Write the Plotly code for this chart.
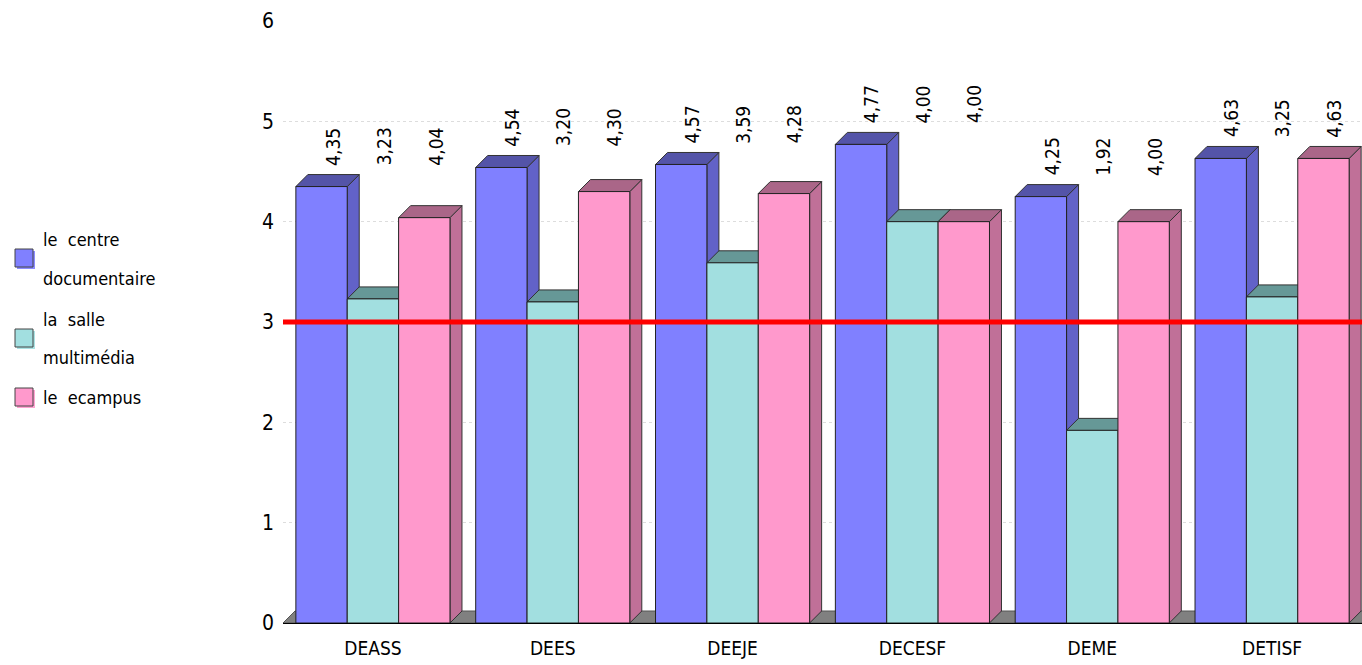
import plotly.graph_objects as go

# Survey averages per department
categories = ["DEASS", "DEES", "DEEJE", "DECESF", "DEME", "DETISF"]
series_names = ["le centre documentaire", "la salle multimédia", "le ecampus"]
centre_doc = [4.35, 4.54, 4.57, 4.77, 4.25, 4.63]
salle_multi = [3.23, 3.20, 3.59, 4.00, 1.92, 3.25]
ecampus = [4.04, 4.30, 4.28, 4.00, 4.00, 4.63]
y_ticks = [0, 1, 2, 3, 4, 5, 6]
threshold = 3

FONT = "Liberation Sans Narrow, DejaVu Sans Condensed, Arial Narrow, sans-serif"

# front, top, side colours per series
palette = [
    ("#8080FF", "#5454A8", "#6262C8"),
    ("#A2DFE0", "#669897", "#7FB5B5"),
    ("#FF99CC", "#AA6688", "#C07098"),
]
series = [centre_doc, salle_multi, ecampus]

# geometry of the plot area in pixels (used to derive the 3D depth offset)
W, H = 1362, 665
L, R, T, B = 283, 0, 21, 42
plot_w = W - L - R
plot_h = H - T - B
x_min, x_max = -0.5, len(categories) - 0.5
y_min, y_max = 0, 6
depth_px = 12
dx = depth_px * (x_max - x_min) / plot_w
dy = depth_px * (y_max - y_min) / plot_h

bargap = 0.143
bar_w = (1 - bargap) / 3
xs = list(range(len(categories)))

fig = go.Figure()
for k, (name, vals) in enumerate(zip(series_names, series)):
    fig.add_trace(go.Bar(
        x=xs, y=vals, name=name,
        marker=dict(color=palette[k][0], line=dict(color="#222222", width=1)),
        showlegend=False, hoverinfo="y",
    ))

shapes = []
# floor slab
shapes.append(dict(
    type="path", xref="x", yref="y", layer="between",
    path=f"M {x_min},0 L {x_min+dx},{dy} L {x_max+dx},{dy} L {x_max},0 Z",
    fillcolor="#808080", line=dict(color="#555555", width=1),
))

sides, tops = [], []
for k, vals in enumerate(series):
    off = (k - 1) * bar_w
    for i, v in enumerate(vals):
        x0 = i + off - bar_w / 2
        x1 = x0 + bar_w
        sides.append(dict(
            type="path", xref="x", yref="y", layer="between",
            path=f"M {x1},0 L {x1+dx},{dy} L {x1+dx},{v+dy} L {x1},{v} Z",
            fillcolor=palette[k][2], line=dict(color="#333333", width=1),
        ))
        tops.append(dict(
            type="path", xref="x", yref="y", layer="between",
            path=f"M {x0},{v} L {x0+dx},{v+dy} L {x1+dx},{v+dy} L {x1},{v} Z",
            fillcolor=palette[k][1], line=dict(color="#333333", width=1),
        ))
shapes += sides + tops

# reference line at the scale midpoint
shapes.append(dict(
    type="line", xref="paper", yref="y", x0=0, x1=1, y0=threshold, y1=threshold,
    line=dict(color="#FF0000", width=5), layer="above",
))

annotations = []
# vertical value labels, aligned per department above its tallest bar
for i in range(len(categories)):
    group_top = max(s[i] for s in series)
    for k, vals in enumerate(series):
        off = (k - 1) * bar_w
        annotations.append(dict(
            x=i + off + 0.06, y=group_top + dy, xref="x", yref="y",
            text=f"{vals[i]:.2f}".replace(".", ","), showarrow=False,
            textangle=-90, xanchor="center", yanchor="bottom", yshift=7,
            font=dict(family=FONT, size=19, color="#000000"),
        ))


def px_x(p):
    return (p - L) / plot_w


def px_y(p):
    return (H - B - p) / plot_h


# legend drawn beside the plot
legend_rows = [
    (249, ["le  centre", "documentaire"], [239, 278]),
    (329, ["la  salle", "multimédia"], [319, 357]),
    (388, ["le  ecampus"], [398]),
]
for k, (sq_top, lines, line_ys) in enumerate(legend_rows):
    shapes.append(dict(
        type="rect", xref="paper", yref="paper", layer="above",
        x0=px_x(17), x1=px_x(35), y0=px_y(sq_top + 2), y1=px_y(sq_top + 20),
        fillcolor=palette[k][0], opacity=0.9, line=dict(width=0),
    ))
    shapes.append(dict(
        type="rect", xref="paper", yref="paper", layer="above",
        x0=px_x(15), x1=px_x(33), y0=px_y(sq_top), y1=px_y(sq_top + 18),
        fillcolor=palette[k][0], line=dict(color="#444444", width=1),
    ))
    for txt, ly in zip(lines, line_ys):
        annotations.append(dict(
            x=px_x(41), y=px_y(ly), xref="paper", yref="paper",
            text=txt, showarrow=False, xanchor="left", yanchor="middle",
            font=dict(family=FONT, size=18, color="#000000"),
        ))

fig.update_layout(
    width=W, height=H,
    margin=dict(l=L, r=R, t=T, b=B, pad=0),
    paper_bgcolor="white", plot_bgcolor="white",
    barmode="group", bargap=bargap, bargroupgap=0,
    shapes=shapes, annotations=annotations,
    font=dict(family=FONT, size=19, color="#000000"),
    xaxis=dict(
        range=[x_min, x_max], tickmode="array", tickvals=xs, ticktext=categories,
        showgrid=False, zeroline=False, showline=True, linecolor="#000000",
        linewidth=1, ticks="", tickfont=dict(size=19), ticklabelstandoff=8,
    ),
    yaxis=dict(
        range=[y_min, y_max], tickmode="array", tickvals=y_ticks,
        ticktext=[str(t) for t in y_ticks],
        showgrid=True, gridcolor="#DDDDDD", griddash="dot", gridwidth=1,
        zeroline=False, showline=False, ticks="", ticklabelstandoff=8,
        tickfont=dict(size=21),
    ),
)

fig.write_html("out.html")
